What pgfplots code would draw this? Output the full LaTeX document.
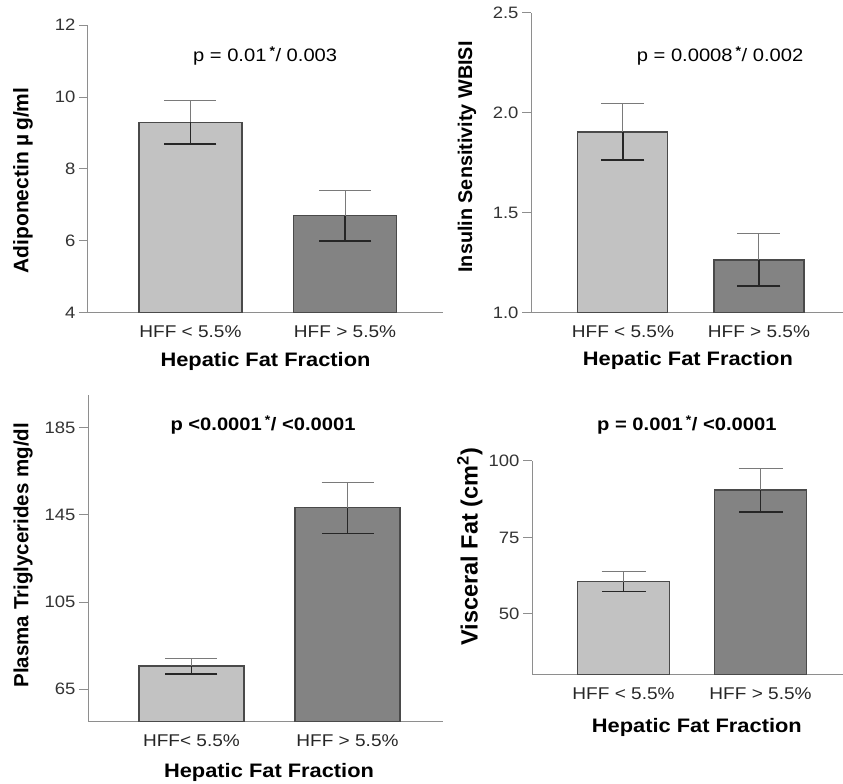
\documentclass[border=0pt]{standalone}
\usepackage{fontspec}
\setmainfont{Liberation Sans}[FakeStretch=1.12]
\newfontfamily\ylabfont{Liberation Sans}
\usepackage{pgfplots}
\pgfplotsset{compat=1.18}
\definecolor{lightbar}{HTML}{C2C2C2}
\definecolor{darkbar}{HTML}{838383}
\definecolor{edge}{HTML}{4A4A4A}
\definecolor{axisgray}{HTML}{8E8E8E}
\definecolor{whisk}{HTML}{7A7A7A}
\pgfplotsset{
  panel/.style={
    scale only axis, clip mode=individual,
    axis x line*=bottom, axis y line*=left,
    axis line style={-, draw=axisgray, line width=1pt},
    xtick={1,2}, xtick style={draw=none},
    ytick style={draw=axisgray, line width=1pt},
    tick align=outside, major tick length=9pt,
    /pgf/number format/assume math mode=true,
    yticklabel style={font=\fontsize{16.5}{18}\selectfont, text=black!80},
    xticklabel style={font=\fontsize{17}{19}\selectfont, text=black!85},
    xlabel style={font=\bfseries\fontsize{19.5}{22}\selectfont, anchor=center},
    ylabel style={rotate=0, anchor=center},
  },
  lbar/.style={ybar, bar width=#1, fill=lightbar, draw=edge, line width=1.1pt},
  dbar/.style={ybar, bar width=#1, fill=darkbar, draw=edge, line width=1.1pt},
  upbar/.style={draw=none, forget plot, error bars/.cd, y dir=plus, y explicit,
    error bar style={draw=whisk, line width=1pt},
    error mark options={rotate=90, mark size=#1, draw=whisk, line width=1pt}},
  lowbar/.style={draw=none, forget plot, error bars/.cd, y dir=minus, y explicit,
    error bar style={draw=black!85, line width=1.6pt},
    error mark options={rotate=90, mark size=#1, draw=black!85, line width=1.6pt}},
}
\begin{document}
\begin{tikzpicture}
\path[use as bounding box] (0,0) rectangle (843pt,784pt);

% top left: adiponectin
\begin{axis}[panel, at={(88pt,471pt)}, anchor=south west,
  width=355pt, height=288pt,
  xmin=0.337, xmax=2.634, ymin=4, ymax=12, ytick={4,6,8,10,12},
  xticklabels={HFF < 5.5\%, HFF > 5.5\%},
  xlabel={Hepatic Fat Fraction},
  xlabel style={at={(axis description cs:0.5,-0.17)}},
  ylabel={\ylabfont\bfseries\fontsize{21}{23}\selectfont Adiponectin µ\,g/ml},
  ylabel style={at={(axis description cs:-0.183,0.46)}}]
\addplot[lbar=103pt] coordinates {(1,9.3)};
\addplot[dbar=103pt] coordinates {(2,6.7)};
\addplot[upbar=26pt] coordinates {(1,9.3) +- (0,0.6) (2,6.7) +- (0,0.7)};
\addplot[lowbar=26pt] coordinates {(1,9.3) +- (0,0.6) (2,6.7) +- (0,0.7)};
\node[font=\fontsize{18}{20}\selectfont] at (rel axis cs:0.499,0.892)
  {p = 0.01\,\textsuperscript{\textbf{*}}/ 0.003};
\end{axis}

% top right: insulin sensitivity
\begin{axis}[panel, at={(531pt,471pt)}, anchor=south west,
  width=312pt, height=300pt,
  xmin=0.324, xmax=2.618, ymin=1, ymax=2.5, ytick={1,1.5,2,2.5},
  yticklabel style={/pgf/number format/.cd, fixed, fixed zerofill, precision=1},
  xticklabels={HFF < 5.5\%, HFF > 5.5\%},
  xlabel={Hepatic Fat Fraction},
  xlabel style={at={(axis description cs:0.503,-0.157)}},
  ylabel={\ylabfont\bfseries\fontsize{19.8}{22}\selectfont Insulin Sensitivity WBISI},
  ylabel style={at={(axis description cs:-0.205,0.52)}}]
\addplot[lbar=90pt] coordinates {(1,1.905)};
\addplot[dbar=90pt] coordinates {(2,1.265)};
\addplot[upbar=21.5pt] coordinates {(1,1.905) +- (0,0.14) (2,1.265) +- (0,0.13)};
\addplot[lowbar=21.5pt] coordinates {(1,1.905) +- (0,0.14) (2,1.265) +- (0,0.13)};
\node[font=\fontsize{18}{20}\selectfont] at (rel axis cs:0.606,0.857)
  {p = 0.0008\,\textsuperscript{\textbf{*}}/ 0.002};
\end{axis}

% bottom left: triglycerides
\begin{axis}[panel, at={(88pt,62pt)}, anchor=south west,
  width=355pt, height=327pt,
  xmin=0.337, xmax=2.612, ymin=50, ymax=200, ytick={65,105,145,185},
  xticklabels={HFF< 5.5\%, HFF > 5.5\%},
  xlabel={Hepatic Fat Fraction},
  xlabel style={at={(axis description cs:0.51,-0.153)}},
  ylabel={\ylabfont\bfseries\fontsize{20.5}{23}\selectfont Plasma Triglycerides mg/dl},
  ylabel style={at={(axis description cs:-0.183,0.51)}}]
\addplot[lbar=105pt] coordinates {(1,75.7)};
\addplot[dbar=105pt] coordinates {(2,148.2)};
\addplot[upbar=26pt] coordinates {(1,75.7) +- (0,3.6) (2,148.2) +- (0,11.7)};
\addplot[lowbar=26pt] coordinates {(1,75.7) +- (0,3.6) (2,148.2) +- (0,11.7)};
\node[font=\bfseries\fontsize{18}{20}\selectfont] at (rel axis cs:0.493,0.908)
  {p <0.0001\,\textsuperscript{*}/ <0.0001};
\end{axis}

% bottom right: visceral fat
\begin{axis}[panel, at={(532pt,109pt)}, anchor=south west,
  width=311pt, height=214pt,
  xmin=0.332, xmax=2.602, ymin=30, ymax=100, ytick={50,75,100},
  xticklabels={HFF < 5.5\%, HFF > 5.5\%},
  xlabel={Hepatic Fat Fraction},
  xlabel style={at={(axis description cs:0.53,-0.243)}},
  ylabel={\ylabfont\bfseries\fontsize{23.5}{26}\selectfont Visceral Fat (cm\textsuperscript{2})},
  ylabel style={at={(axis description cs:-0.2,0.6)}}]
\addplot[lbar=92pt] coordinates {(1,60.5)};
\addplot[dbar=92pt] coordinates {(2,90.5)};
\addplot[upbar=22pt] coordinates {(1,60.5) +- (0,3.2) (2,90.5) +- (0,7.2)};
\addplot[lowbar=22pt] coordinates {(1,60.5) +- (0,3.2) (2,90.5) +- (0,7.2)};
\node[font=\bfseries\fontsize{18}{20}\selectfont] at (rel axis cs:0.498,1.168)
  {p = 0.001\,\textsuperscript{*}/ <0.0001};
\end{axis}
\end{tikzpicture}
\end{document}
